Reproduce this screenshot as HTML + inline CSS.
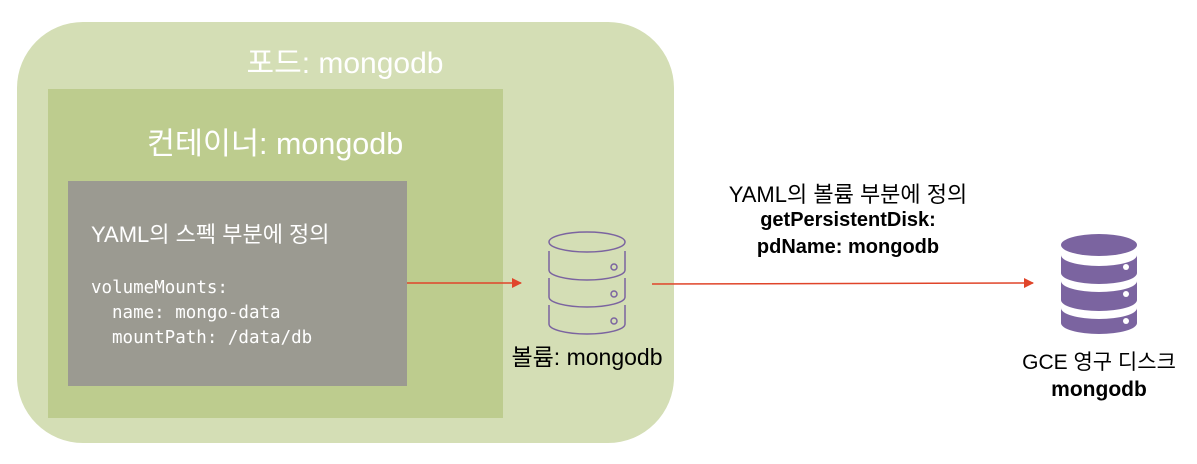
<!DOCTYPE html>
<html><head><meta charset="utf-8"><style>
html,body{margin:0;padding:0;background:#fff;width:1197px;height:464px;overflow:hidden}
svg text{font-family:"Liberation Sans","Noto Sans CJK KR",sans-serif}
</style></head><body>
<svg width="1197" height="464" viewBox="0 0 1197 464" xmlns="http://www.w3.org/2000/svg">
<defs>
<marker id="ah" markerWidth="10" markerHeight="10" refX="9" refY="5" orient="auto" markerUnits="userSpaceOnUse"><path d="M0,0 L10,5 L0,10 z" fill="#e0452a"/></marker>
</defs>
<rect x="17" y="22" width="657" height="421" rx="66" ry="66" fill="#d4deb5"/>
<rect x="48" y="89" width="455" height="329" fill="#bdcc8e"/>
<rect x="68" y="181" width="339" height="205" fill="#9b9a91"/>
<text x="345" y="73" font-size="30" fill="#fff" text-anchor="middle">포드: mongodb</text>
<text x="275" y="154" font-size="30.5" fill="#fff" text-anchor="middle">컨테이너: mongodb</text>
<text x="91" y="242" font-size="22" fill="#fff">YAML의 스펙 부분에 정의</text>
<g font-size="17.5" fill="#fff">
<text x="91" y="293" style="font-family:'DejaVu Sans Mono',monospace">volumeMounts:</text>
<text x="112" y="318" style="font-family:'DejaVu Sans Mono',monospace">name: mongo-data</text>
<text x="112" y="343" style="font-family:'DejaVu Sans Mono',monospace">mountPath: /data/db</text>
</g>
<line x1="407" y1="283" x2="521" y2="283" stroke="#e0452a" stroke-width="1.5" marker-end="url(#ah)"/>
<line x1="652" y1="284" x2="1033" y2="283" stroke="#e0452a" stroke-width="1.5" marker-end="url(#ah)"/>
<g fill="none" stroke="#7b64a0" stroke-width="1.5">
<ellipse cx="587" cy="242" rx="38" ry="10"/>
<path d="M549,251 v19 a38,10 0 0 0 76,0 v-19"/>
<path d="M549,278 v19 a38,10 0 0 0 76,0 v-19"/>
<path d="M549,305 v19 a38,10 0 0 0 76,0 v-19"/>
<circle cx="614" cy="267" r="3"/><circle cx="614" cy="294" r="3"/><circle cx="614" cy="321" r="3"/>
</g>
<text x="587" y="365" font-size="23" fill="#000" text-anchor="middle">볼륨: mongodb</text>
<g fill="#7b64a0">
<ellipse cx="1099" cy="245" rx="38" ry="11"/>
<path d="M1061,255 a38,11 0 0 0 76,0 v18 a38,11 0 0 1 -76,0 z"/>
<path d="M1061,281 a38,11 0 0 0 76,0 v19 a38,11 0 0 1 -76,0 z"/>
<path d="M1061,308 a38,11 0 0 0 76,0 v15 a38,11 0 0 1 -76,0 z"/>
</g>
<g fill="#fff"><circle cx="1126" cy="267" r="3"/><circle cx="1126" cy="294" r="3"/><circle cx="1126" cy="321" r="3"/></g>
<text x="848" y="202" font-size="22" fill="#000" text-anchor="middle">YAML의 볼륨 부분에 정의</text>
<text x="848" y="226" font-size="20" font-weight="bold" fill="#000" text-anchor="middle">getPersistentDisk:</text>
<text x="848" y="253" font-size="20" font-weight="bold" fill="#000" text-anchor="middle">pdName: mongodb</text>
<text x="1099" y="369" font-size="21" fill="#000" text-anchor="middle">GCE 영구 디스크</text>
<text x="1099" y="396" font-size="21" font-weight="bold" fill="#000" text-anchor="middle">mongodb</text>
</svg>
</body></html>
